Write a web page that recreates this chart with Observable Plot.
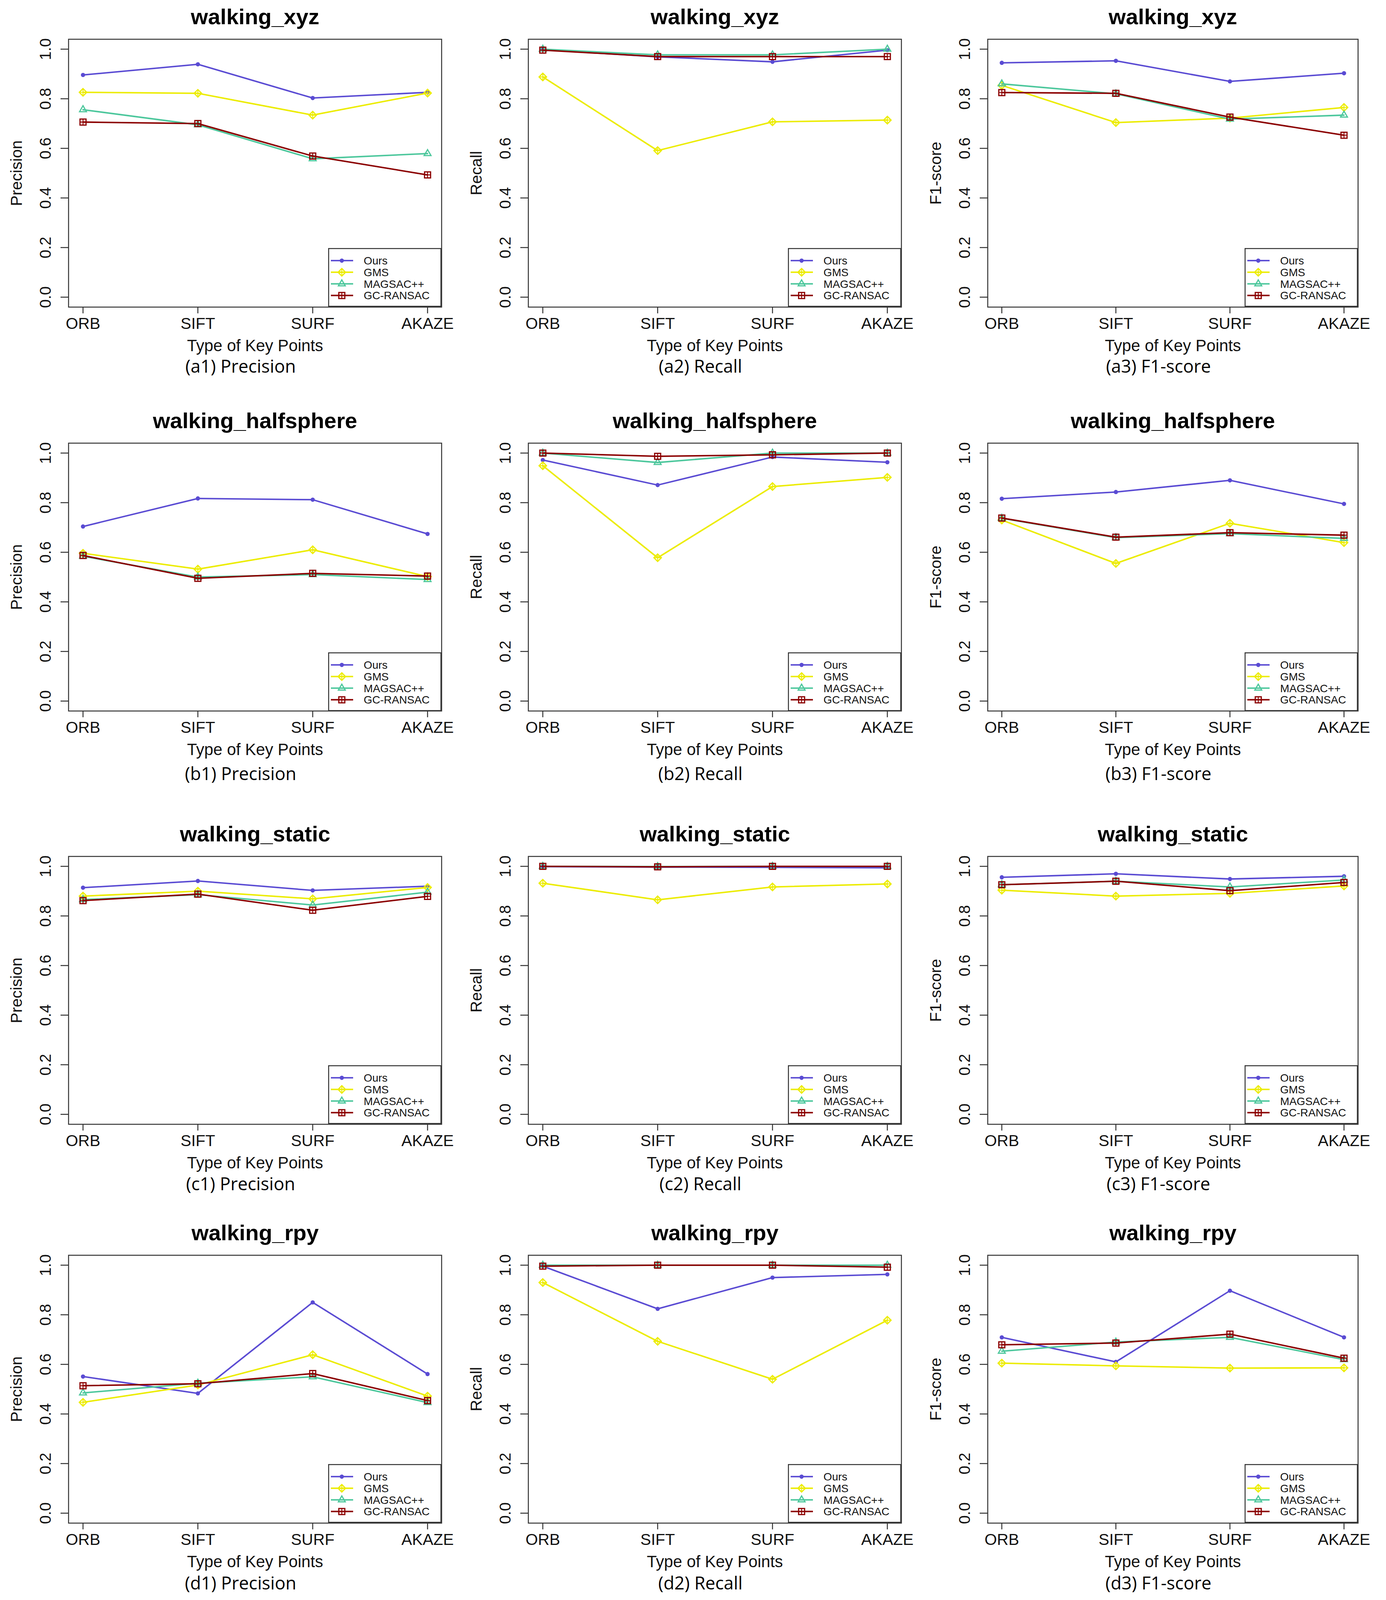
<!DOCTYPE html>
<html><head><meta charset="utf-8">
<script src="https://cdn.jsdelivr.net/npm/d3@7"></script>
<script src="https://cdn.jsdelivr.net/npm/@observablehq/plot@0.6"></script>
<style>
html,body{margin:0;padding:0;background:#fff;overflow:hidden;}
#page{position:relative;width:3548px;background:#fff;overflow:hidden;}
.panel,.legend{position:absolute;}
</style></head><body><div id="page"></div>
<script>
// ---------- data ----------
const keypoints = ["ORB", "SIFT", "SURF", "AKAZE"];
const methods = ["Ours", "GMS", "MAGSAC++", "GC-RANSAC"];
const sequences = ["walking_xyz", "walking_halfsphere", "walking_static", "walking_rpy"];
const metrics = ["Precision", "Recall", "F1-score"];
const rowLetters = ["a", "b", "c", "d"];
const yTicks = [0, 0.2, 0.4, 0.6, 0.8, 1.0];

// rows = methods (Ours, GMS, MAGSAC++, GC-RANSAC), columns = keypoints (ORB, SIFT, SURF, AKAZE)
const xyzPrecision = [[0.896, 0.939, 0.803, 0.826], [0.826, 0.822, 0.734, 0.823], [0.756, 0.695, 0.558, 0.579], [0.706, 0.700, 0.569, 0.493]];
const xyzRecall    = [[0.998, 0.969, 0.949, 0.996], [0.888, 0.591, 0.707, 0.714], [1.000, 0.977, 0.977, 1.000], [0.996, 0.970, 0.970, 0.970]];
const xyzF1        = [[0.945, 0.953, 0.870, 0.903], [0.854, 0.704, 0.722, 0.765], [0.860, 0.820, 0.718, 0.734], [0.825, 0.822, 0.726, 0.653]];
const halfPrecision = [[0.704, 0.817, 0.812, 0.674], [0.596, 0.532, 0.610, 0.502], [0.584, 0.500, 0.510, 0.490], [0.587, 0.495, 0.515, 0.504]];
const halfRecall    = [[0.972, 0.871, 0.984, 0.963], [0.949, 0.578, 0.865, 0.902], [1.000, 0.962, 1.000, 1.000], [1.000, 0.987, 0.993, 1.000]];
const halfF1        = [[0.816, 0.843, 0.890, 0.795], [0.730, 0.555, 0.717, 0.639], [0.737, 0.659, 0.675, 0.656], [0.738, 0.661, 0.679, 0.669]];
const staticPrecision = [[0.914, 0.941, 0.903, 0.920], [0.880, 0.900, 0.869, 0.915], [0.866, 0.886, 0.844, 0.896], [0.862, 0.888, 0.823, 0.879]];
const staticRecall    = [[0.999, 0.997, 0.996, 0.994], [0.932, 0.865, 0.917, 0.929], [1.000, 0.999, 1.000, 1.000], [1.000, 0.998, 1.000, 1.000]];
const staticF1        = [[0.956, 0.970, 0.949, 0.960], [0.904, 0.880, 0.891, 0.921], [0.926, 0.940, 0.917, 0.945], [0.926, 0.940, 0.902, 0.935]];
const rpyPrecision = [[0.551, 0.483, 0.850, 0.561], [0.447, 0.517, 0.639, 0.472], [0.485, 0.524, 0.550, 0.446], [0.514, 0.522, 0.563, 0.454]];
const rpyRecall    = [[0.996, 0.824, 0.950, 0.963], [0.930, 0.693, 0.540, 0.778], [1.000, 1.000, 1.000, 1.000], [0.996, 1.000, 1.000, 0.992]];
const rpyF1        = [[0.709, 0.610, 0.897, 0.709], [0.605, 0.594, 0.585, 0.586], [0.653, 0.690, 0.709, 0.619], [0.679, 0.686, 0.722, 0.625]];

const panelValues = [
  [xyzPrecision, xyzRecall, xyzF1],
  [halfPrecision, halfRecall, halfF1],
  [staticPrecision, staticRecall, staticF1],
  [rpyPrecision, rpyRecall, rpyF1]
];

// ---------- style / layout ----------
// the visible window may be shorter than the 4958px design height: fit vertically
const S = Math.min(1, (window.innerHeight || 4958) / 4958);
const F = Math.sqrt(S);               // font / symbol scale
const colors = ["#5a4bd3", "#ecec00", "#4cc79c", "#8b0000"];
const boxLeft = [175, 1352, 2528];
const boxWidth = [955, 955, 948];
const boxTop = [121, 1373, 2653, 3889].map(v => v * S);
const boxH = 830 * S;
const captionDy = [186, 197, 187, 188].map(v => v * S);
const MT = 121 * S, MB = 225 * S, ML = 175, SVGW = 1183;
const FONT = "'Liberation Sans', Arial, sans-serif";
const AX = "#333";
const LINEW = 3.8;

const page = document.getElementById("page");
page.style.height = (4958 * S) + "px";

function seriesMarks(data, i) {
  const c = colors[i];
  const o = {x: "kp", y: "v"};
  const marks = [Plot.line(data, {...o, stroke: c, strokeWidth: LINEW})];
  if (i === 0) marks.push(Plot.dot(data, {...o, r: 6 * F, fill: c}));
  if (i === 1) {
    marks.push(Plot.dot(data, {...o, symbol: "diamond2", r: 9.5 * F, stroke: c, strokeWidth: 3, fill: "none"}));
    marks.push(Plot.dot(data, {...o, symbol: "plus", r: 6.5 * F, stroke: c, strokeWidth: 2.3}));
  }
  if (i === 2) marks.push(Plot.dot(data, {...o, symbol: "triangle2", r: 9.3 * F, stroke: c, strokeWidth: 3, fill: "none"}));
  if (i === 3) {
    marks.push(Plot.dot(data, {...o, symbol: "square2", r: 10.8 * F, stroke: c, strokeWidth: 3, fill: "none"}));
    marks.push(Plot.dot(data, {...o, symbol: "plus", r: 5.6 * F, stroke: c, strokeWidth: 2.3}));
  }
  return marks;
}

function legendSymbol(g, i, cx, cy) {
  const c = colors[i];
  const sym = (type, r) => d3.symbol(type, Math.PI * r * r)();
  const add = (type, r, opt) => g.append("path").attr("d", sym(type, r)).attr("transform", `translate(${cx},${cy})`)
      .attr("fill", opt.fill || "none").attr("stroke", opt.stroke || "none").attr("stroke-width", opt.sw || 0);
  if (i === 0) add(d3.symbolCircle, 6 * F, {fill: c});
  if (i === 1) { add(d3.symbolDiamond2, 9.5 * F, {stroke: c, sw: 3}); add(d3.symbolPlus, 6.5 * F, {stroke: c, sw: 2.3}); }
  if (i === 2) add(d3.symbolTriangle2, 9.3 * F, {stroke: c, sw: 3});
  if (i === 3) { add(d3.symbolSquare2, 10.8 * F, {stroke: c, sw: 3}); add(d3.symbolPlus, 5.6 * F, {stroke: c, sw: 2.3}); }
}

for (let r = 0; r < 4; r++) {
  for (let c = 0; c < 3; c++) {
    const values = panelValues[r][c];
    const data = methods.map((m, i) => keypoints.map((k, j) => ({method: m, kp: k, v: values[i][j]})));
    const marks = [
      Plot.frame({stroke: AX, strokeWidth: 2.5}),
      Plot.axisY({ticks: yTicks, tickSize: 20, tickFormat: () => "", label: null, stroke: AX, strokeWidth: 2.5}),
      Plot.axisX({tickSize: 20 * S, tickFormat: () => "", label: null, stroke: AX, strokeWidth: 2.5}),
      Plot.text(yTicks, {y: d => d, text: d => d.toFixed(1), frameAnchor: "left", dx: -58, rotate: -90,
        textAnchor: "middle", lineAnchor: "middle", fontSize: 44 * F, fill: "#111"}),
      Plot.text(keypoints, {x: d => d, text: d => d, frameAnchor: "bottom", dy: 52 * S, lineAnchor: "middle",
        fontSize: 45 * F, fill: "#111"}),
      Plot.text(["Type of Key Points"], {frameAnchor: "bottom", dy: 120 * S, lineAnchor: "middle", fontSize: 46 * F, fill: "#111"}),
      Plot.text([metrics[c]], {frameAnchor: "left", dx: -133, rotate: -90, textAnchor: "middle", lineAnchor: "middle",
        fontSize: 45 * F, fill: "#111"}),
      Plot.text([sequences[r]], {frameAnchor: "top", dy: -68 * S, lineAnchor: "middle", fontSize: 62 * F,
        fontWeight: "bold", fill: "#000"}),
      Plot.text([`(${rowLetters[r]}${c + 1}) ${metrics[c]}`], {frameAnchor: "bottom", dy: captionDy[r], dx: -37,
        lineAnchor: "middle", fontSize: 50 * F, fontFamily: "'Open Sans', 'Noto Sans', sans-serif", fill: "#000"})
    ];
    data.forEach((d, i) => marks.push(...seriesMarks(d, i)));

    const svg = Plot.plot({
      width: SVGW,
      height: MT + boxH + MB,
      marginLeft: ML,
      marginRight: SVGW - ML - boxWidth[c],
      marginTop: MT,
      marginBottom: MB,
      x: {type: "point", domain: keypoints, padding: 0.12},
      y: {domain: [-0.04, 1.04]},
      style: {fontFamily: FONT, fontSize: "40px", color: "#000", background: "transparent", overflow: "visible"},
      marks
    });
    const wrap = document.createElement("div");
    wrap.className = "panel";
    wrap.style.left = (boxLeft[c] - ML) + "px";
    wrap.style.top = (boxTop[r] - MT) + "px";
    wrap.appendChild(svg);
    page.appendChild(wrap);

    // legend in the bottom-right corner of the plot box
    const LW = 290, LH = 182 * S;
    const lg = d3.select(page).append("svg").attr("class", "legend")
      .attr("width", LW).attr("height", LH)
      .style("left", (boxLeft[c] + boxWidth[c] - LW) + "px")
      .style("top", (boxTop[r] + boxH - LH) + "px");
    lg.append("rect").attr("x", 1.25).attr("y", 1.25).attr("width", LW - 2.5).attr("height", LH - 2.5)
      .attr("fill", "#fff").attr("stroke", AX).attr("stroke-width", 2.5);
    const rowY = [39, 75, 111, 147].map(v => v * S);
    methods.forEach((m, i) => {
      const y = rowY[i];
      lg.append("line").attr("x1", 7).attr("x2", 64).attr("y1", y).attr("y2", y)
        .attr("stroke", colors[i]).attr("stroke-width", LINEW);
      legendSymbol(lg, i, 35, y);
      lg.append("text").attr("x", 91).attr("y", y).attr("dy", "0.35em")
        .attr("font-family", FONT).attr("font-size", 31 * F).attr("fill", "#111").text(m);
    });
  }
}
</script></body></html>
